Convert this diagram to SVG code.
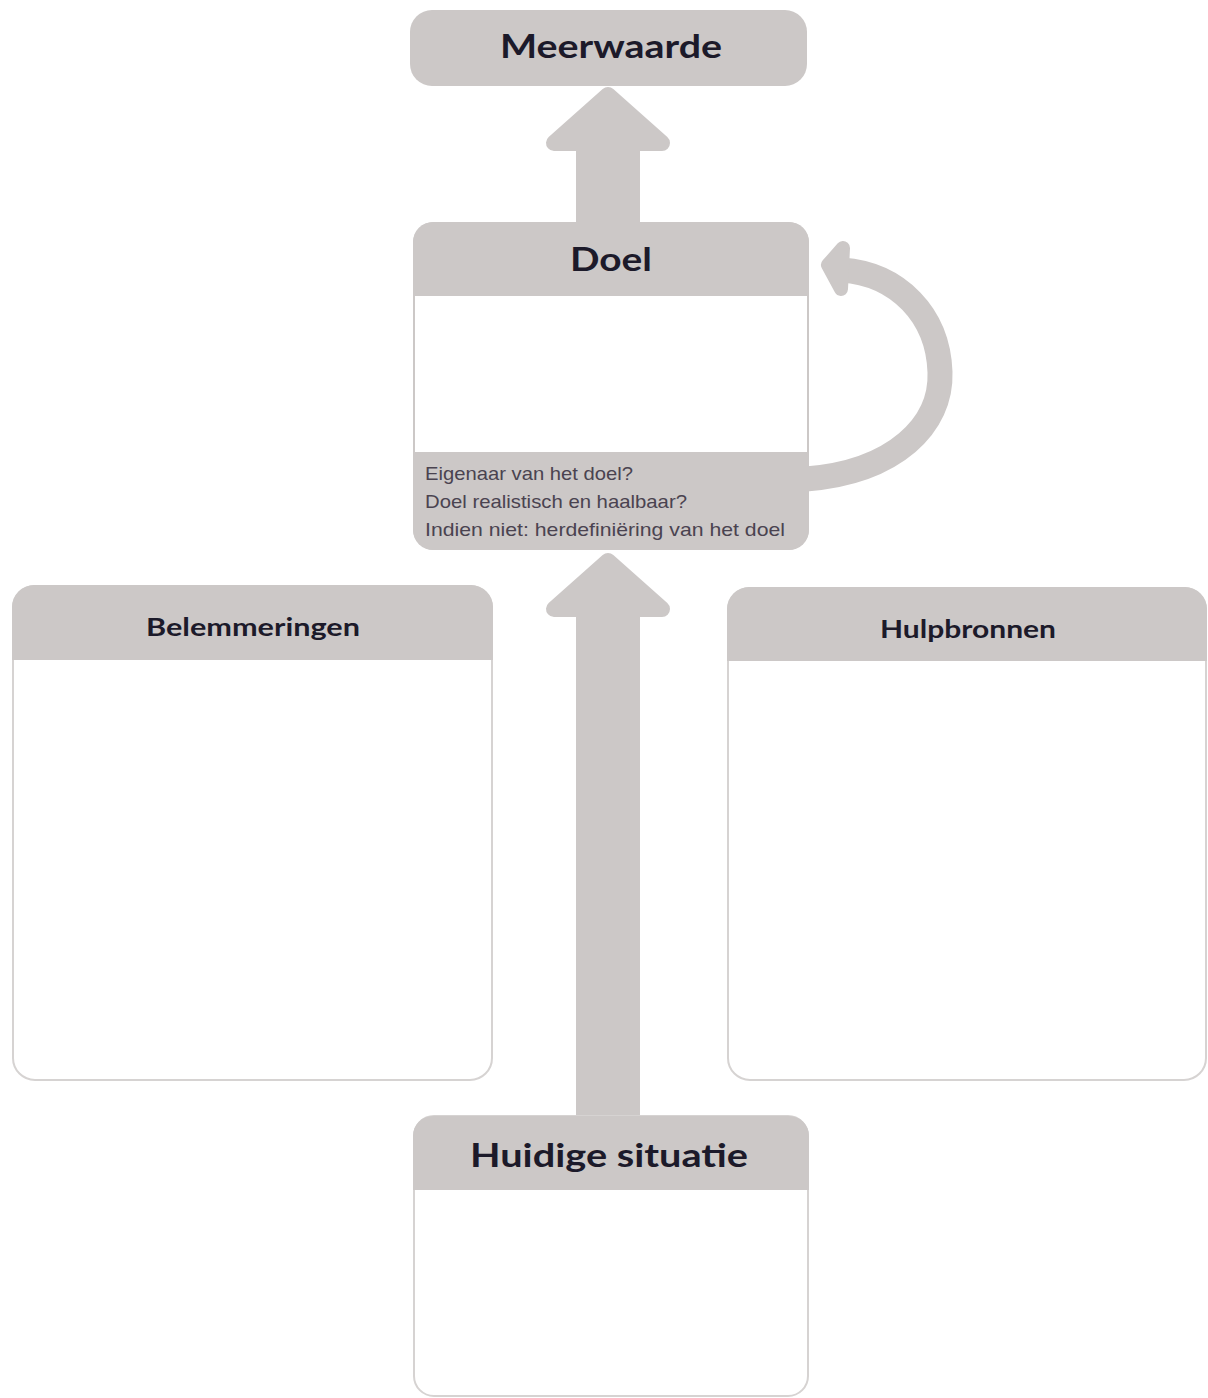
<svg xmlns="http://www.w3.org/2000/svg" width="1208" height="1398" viewBox="0 0 1208 1398">
<style>
.g{fill:#ccc8c7}
.box{fill:#ffffff;stroke:#d6d3d2;stroke-width:2}
.head{fill:#1c1a2a;font-family:Lato,"Liberation Sans",sans-serif;font-weight:bold;text-anchor:middle}
.note{fill:#4a4350;font-family:"Liberation Sans",sans-serif;font-size:19px}
.ah{fill:#ccc8c7;stroke:#ccc8c7;stroke-width:16;stroke-linejoin:round}
</style>
<rect width="1208" height="1398" fill="#ffffff"/>
<g id="connectors">
  <polygon class="ah" points="608,95 554,143 662,143"/>
  <rect class="g" x="576" y="140" width="64" height="84"/>
  <polygon class="ah" points="608,561 554,609 662,609"/>
  <rect class="g" x="576" y="606" width="64" height="514"/>
  <path d="M806 479 C 895 472, 942 425, 940 372 C 938 315, 898 274, 842 270" fill="none" stroke="#ccc8c7" stroke-width="25"/>
  <polygon class="ah" points="828,265 843,248 841,289" style="stroke-width:14"/>
</g>
<g id="meerwaarde">
  <rect class="g" x="410" y="10" width="397" height="76" rx="22"/>
  <text class="head" x="611" y="58" font-size="33" textLength="222" lengthAdjust="spacingAndGlyphs">Meerwaarde</text>
</g>
<g id="doel">
  <rect class="box" x="414" y="223" width="394" height="326" rx="20" style="stroke:#ccc8c7"/>
  <path class="g" d="M413 296 V242 a20 20 0 0 1 20 -20 H789 a20 20 0 0 1 20 20 V296 Z"/>
  <path class="g" d="M413 452 V530 a20 20 0 0 0 20 20 H789 a20 20 0 0 0 20 -20 V452 Z"/>
  <text class="head" x="611" y="271" font-size="33" textLength="82" lengthAdjust="spacingAndGlyphs">Doel</text>
  <text class="note" x="425" y="480" textLength="208" lengthAdjust="spacingAndGlyphs">Eigenaar van het doel?</text>
  <text class="note" x="425" y="508" textLength="262" lengthAdjust="spacingAndGlyphs">Doel realistisch en haalbaar?</text>
  <text class="note" x="425" y="536" textLength="360" lengthAdjust="spacingAndGlyphs">Indien niet: herdefiniëring van het doel</text>
</g>
<g id="belemmeringen">
  <rect class="box" x="13" y="586" width="479" height="494" rx="22"/>
  <path class="g" d="M12 660 V607 a22 22 0 0 1 22 -22 H471 a22 22 0 0 1 22 22 V660 Z"/>
  <text class="head" x="253" y="636" font-size="24" textLength="214" lengthAdjust="spacingAndGlyphs">Belemmeringen</text>
</g>
<g id="hulpbronnen">
  <rect class="box" x="728" y="588" width="478" height="492" rx="22"/>
  <path class="g" d="M727 661 V609 a22 22 0 0 1 22 -22 H1185 a22 22 0 0 1 22 22 V661 Z"/>
  <text class="head" x="968" y="638" font-size="24" textLength="176" lengthAdjust="spacingAndGlyphs">Hulpbronnen</text>
</g>
<g id="huidige-situatie">
  <rect class="box" x="414" y="1116" width="394" height="280" rx="20"/>
  <path class="g" d="M413 1190 V1136 a20 20 0 0 1 20 -20 H789 a20 20 0 0 1 20 20 V1190 Z"/>
  <text class="head" x="609" y="1167" font-size="33" textLength="278" lengthAdjust="spacingAndGlyphs">Huidige situatie</text>
</g>
</svg>
